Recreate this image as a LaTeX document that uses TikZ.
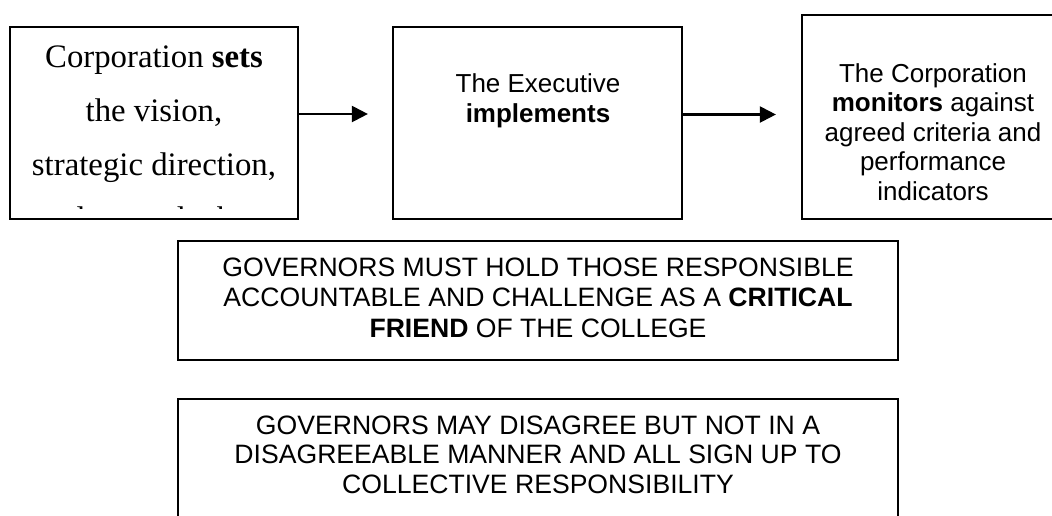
\documentclass[tikz,border=0pt]{standalone}
\usepackage{fontspec}
\setmainfont{Liberation Sans}
\newfontfamily\boxserif{Liberation Serif}
\usetikzlibrary{arrows.meta}
\tikzset{
	box/.style={draw, line width=2.2pt, inner sep=0pt},
	words/.style={align=center, inner sep=0pt, anchor=base, font=\fontsize{26}{30}\selectfont},
	arr/.style={line width=2.2pt, -{Triangle[length=16pt,width=16pt]}}
}

\begin{document}
\begin{tikzpicture}[x=1pt,y=-1pt]
		%%%%% START %%%%%
		\useasboundingbox (0,0) rectangle (1052,515);
		\clip (0,0) rectangle (1052,515);
		
		% top row
		\node[box, minimum width=288pt, minimum height=192pt] (sets) at (154,123) {};
		\node[box, minimum width=289pt, minimum height=192pt] (impl) at (537.5,123) {};
		\node[box, minimum width=262pt, minimum height=204pt] (monit) at (933,117) {};
		
		% texts sit on the baseline of their last line
		\begin{scope}
			\clip (12,29) rectangle (296,208.5);
			\node[words, font=\boxserif\fontsize{32.8}{54}\selectfont] (setstext) at (154,229)
				{Corporation \textbf{sets}\\the vision,\\strategic direction,\\values and ethos};
		\end{scope}
		\node[words] (impltext) at (538,122) {The Executive\\\textbf{implements}};
		\node[words, font=\fontsize{26}{29.5}\selectfont] (monittext) at (933,200)
			{The Corporation\\\textbf{monitors} against\\agreed criteria and\\performance\\indicators};
		
		\draw[arr, shorten >=24pt] ([yshift=9pt]sets.east) -- ([yshift=9pt]impl.west);
		\draw[arr, shorten >=25pt] ([yshift=8.5pt]impl.east) -- ([yshift=2.5pt]monit.west);
		
		% governors
		\node[box, minimum width=720pt, minimum height=119pt] (friend) at (538,300.5) {};
		\node[words, font=\fontsize{26.6}{30.5}\selectfont] (friendtext) at (538,337)
			{GOVERNORS MUST HOLD THOSE RESPONSIBLE\\ACCOUNTABLE AND CHALLENGE AS A \textbf{CRITICAL}\\\textbf{FRIEND} OF THE COLLEGE};
		
		\node[box, minimum width=720pt, minimum height=119pt] (manner) at (538,458.5) {};
		\node[words, font=\fontsize{26.6}{29.5}\selectfont] (mannertext) at (538,493)
			{GOVERNORS MAY DISAGREE BUT NOT IN A\\DISAGREEABLE MANNER AND ALL SIGN UP TO\\COLLECTIVE RESPONSIBILITY};
		
		%%%%% END %%%%%
\end{tikzpicture}
\end{document}
